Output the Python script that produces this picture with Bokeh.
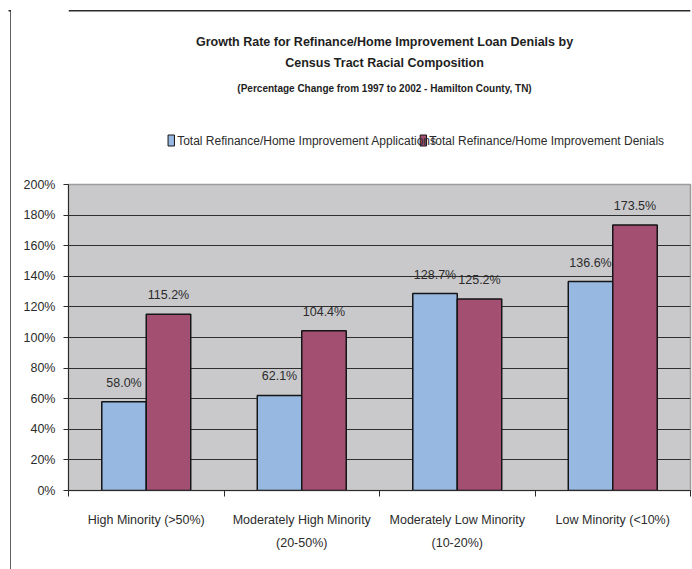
from bokeh.plotting import figure
from bokeh.models import ColumnDataSource, FixedTicker, PrintfTickFormatter, Range1d
from bokeh.layouts import column, row
from bokeh.embed import file_html
from bokeh.resources import INLINE

# --- data -------------------------------------------------------------
categories = [
    "High Minority (>50%)",
    "Moderately High Minority\n(20-50%)",
    "Moderately Low Minority\n(10-20%)",
    "Low Minority (<10%)",
]
applications = [58.0, 62.1, 128.7, 136.6]
denials = [115.2, 104.4, 125.2, 173.5]
series_names = [
    "Total Refinance/Home Improvement Applications",
    "Total Refinance/Home Improvement Denials",
]
y_ticks = [0, 20, 40, 60, 80, 100, 120, 140, 160, 180, 200]

title_lines = [
    "Growth Rate for Refinance/Home Improvement Loan Denials by",
    "Census Tract Racial Composition",
    "(Percentage Change from 1997 to 2002 - Hamilton County, TN)",
]

# --- styling ----------------------------------------------------------
BLUE = "#97B8E1"
MAROON = "#A24F72"
PLOT_BG = "#C9C9CB"
TEXT = "#2b2b2b"
FRAME_LINE = "#2a2a2a"
BAR_W = 0.286

W, H = 692, 569
EDGE_W = 11            # full-height strip carrying the left border line
MAIN_W = W - EDGE_W
HEADER_H = 160         # band holding the titles and the legend
CHART_H = H - HEADER_H


def blank(width, height, x_end, y_start, y_end):
    f = figure(width=width, height=height, x_range=Range1d(0, x_end), y_range=Range1d(y_start, y_end),
               x_axis_type=None, y_axis_type=None, output_backend="svg", toolbar_location=None,
               title=None, min_border=0, min_border_left=0, min_border_right=0,
               min_border_top=0, min_border_bottom=0)
    f.outline_line_color = None
    f.background_fill_color = "white"
    f.border_fill_color = "white"
    f.grid.visible = False
    return f


# --- left strip: outer border (left edge and the start of the top edge) ---
edge = blank(EDGE_W, H, EDGE_W, H, 0)          # pixel units, y grows downwards
edge.segment(x0=[10.5, 8], y0=[9.5, 10.25], x1=[10.5, EDGE_W], y1=[H + 20, 10.25],
             line_color=FRAME_LINE, line_width=1.5)

# --- header: titles, legend key and the rest of the top border ------------
header = blank(MAIN_W, HEADER_H, MAIN_W, HEADER_H, 0)   # pixel units, y grows downwards
header.segment(x0=[0], y0=[10.25], x1=[MAIN_W], y1=[10.25],
               line_color=FRAME_LINE, line_width=1.5)
header.text(x=[357 - EDGE_W] * 3, y=[41, 62, 88], text=title_lines,
            text_align="center", text_baseline="middle",
            text_font_style="bold", text_font_size=["12.5px", "12.5px", "10px"],
            text_color="#1e1e1e")
# legend key: swatch + series name for each series
header.rect(x=[123.5 - EDGE_W, 399.5 - EDGE_W], y=[140, 140], width=7, height=11,
            fill_color=[BLUE, MAROON], line_color="#151515", line_width=1)
header.text(x=[130 - EDGE_W, 406 - EDGE_W], y=[140, 140], text=series_names,
            text_align="left", text_baseline="middle", text_font_size="12px",
            text_color=TEXT)

# --- chart --------------------------------------------------------------
n = len(categories)
centers = [i + 0.5 for i in range(n)]
source = ColumnDataSource(dict(
    x_app=[c - BAR_W / 2 for c in centers],
    x_den=[c + BAR_W / 2 for c in centers],
    app=applications,
    den=denials,
    app_lbl=[f"{v:.1f}%" for v in applications],
    den_lbl=[f"{v:.1f}%" for v in denials],
))

p = figure(width=MAIN_W, height=CHART_H, x_range=Range1d(0, n), y_range=Range1d(0, 200),
           output_backend="svg", toolbar_location=None,
           min_border_left=57, min_border_right=2, min_border_top=24, min_border_bottom=79)
p.background_fill_color = PLOT_BG
p.border_fill_color = "white"
p.outline_line_color = "#9c9c9c"
p.outline_line_width = 1.5

p.vbar(x="x_app", top="app", width=BAR_W, source=source,
       fill_color=BLUE, line_color="#151515", line_width=1.5)
p.vbar(x="x_den", top="den", width=BAR_W, source=source,
       fill_color=MAROON, line_color="#151515", line_width=1.5)

# value labels above the bars
for xcol, ycol, tcol in (("x_app", "app", "app_lbl"), ("x_den", "den", "den_lbl")):
    p.text(x=xcol, y=ycol, text=tcol, source=source, y_offset=-19,
           text_align="center", text_baseline="middle",
           text_font_size="12.5px", text_color=TEXT)

# y axis
p.yaxis.ticker = FixedTicker(ticks=y_ticks)
p.yaxis.formatter = PrintfTickFormatter(format="%d%%")
p.yaxis.major_tick_out = 5
p.yaxis.major_tick_in = 0
p.yaxis.minor_tick_out = 0
p.yaxis.minor_tick_in = 0
p.yaxis.major_label_standoff = 8
p.yaxis.axis_line_color = TEXT
p.yaxis.major_tick_line_color = TEXT
p.yaxis.major_label_text_font_size = "12.5px"
p.yaxis.major_label_text_color = TEXT

# x axis: category names at the centres, short ticks at the group boundaries
p.xaxis.ticker = FixedTicker(ticks=centers, minor_ticks=list(range(n + 1)))
p.xaxis.major_label_overrides = {c: lab for c, lab in zip(centers, categories)}
p.xaxis.major_tick_out = 0
p.xaxis.major_tick_in = 0
p.xaxis.minor_tick_out = 6
p.xaxis.minor_tick_in = 0
p.xaxis.minor_tick_line_color = TEXT
p.xaxis.axis_line_color = TEXT
p.xaxis.major_label_standoff = 16
p.xaxis.major_label_text_font_size = "12.5px"
p.xaxis.major_label_text_color = TEXT
p.xaxis.major_label_text_line_height = 1.7

p.xgrid.visible = False
p.ygrid.ticker = FixedTicker(ticks=y_ticks)
p.ygrid.grid_line_color = "#2e2e2e"
p.ygrid.grid_line_width = 1

page = row(edge, column(header, p, spacing=0), spacing=0)
open("out.html", "w").write(file_html(page, INLINE))
